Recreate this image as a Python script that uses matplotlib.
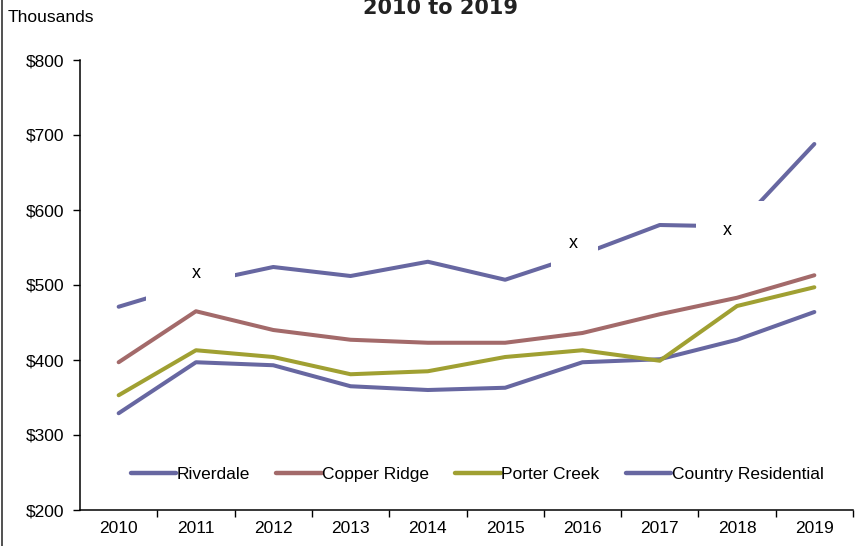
import matplotlib.pyplot as plt
from matplotlib.lines import Line2D
from matplotlib.patches import Rectangle
from matplotlib.ticker import FixedLocator, FuncFormatter
from matplotlib.transforms import IdentityTransform, ScaledTranslation

plt.rcParams['font.family'] = ['Liberation Sans', 'DejaVu Sans']

# data (thousands of dollars)
years = [2010, 2011, 2012, 2013, 2014, 2015, 2016, 2017, 2018, 2019]
riverdale = [329, 397, 393, 365, 360, 363, 397, 401, 427, 464]
copper_ridge = [397, 465, 440, 427, 423, 423, 436, 461, 483, 513]
porter_creek = [353, 413, 404, 381, 385, 404, 413, 399, 472, 497]
country_res = [471, 502, 524, 512, 531, 507, 541, 580, 578, 688]

# suppressed values marked with "x" on the country residential line
x_marks = [2011, 2016, 2018]

series = [
    ('Riverdale', riverdale, '#6767a1'),
    ('Copper Ridge', copper_ridge, '#a36a6a'),
    ('Porter Creek', porter_creek, '#a0a032'),
    ('Country Residential', country_res, '#6767a1'),
]

fig = plt.figure(figsize=(8.63, 5.46), dpi=100)
ax = fig.add_axes([80 / 863, 36 / 546, 773 / 863, 450 / 546])

pos = list(range(len(years)))
for name, vals, col in series:
    ax.plot(pos, vals, color=col, lw=2.9, solid_capstyle='round',
            solid_joinstyle='round', label=name)

# "x" labels sit on white boxes that break the line (pixel offsets from the point)
# (x0, x1, y0, y1) box, (dx, dy) text
label_box = {2011: ((-50, 39, -20, 30), (0, 10)),
             2016: ((-31, 16, -25, 25), (-9, 11)),
             2018: ((-41, 30, -25, 26), (-10, -4))}
for yr in x_marks:
    (x0, x1, y0, y1), (dx, dy) = label_box[yr]
    i = years.index(yr)
    tr = IdentityTransform() + ScaledTranslation(i, country_res[i], ax.transData)
    ax.add_patch(Rectangle((x0, y0), x1 - x0, y1 - y0, transform=tr,
                           fc='white', ec='none', zorder=9, clip_on=False))
    ax.annotate('x', (i, country_res[i]), xytext=(dx, dy), textcoords='offset pixels',
                ha='center', va='center', fontsize=13, zorder=10)

ax.set_xlim(-0.5, len(years) - 0.5)
ax.set_ylim(200, 800)
ax.set_yticks(range(200, 801, 100))
ax.yaxis.set_major_formatter(FuncFormatter(lambda v, p: '$%d' % v))
ax.set_xticks(pos)
ax.set_xticklabels([str(y) for y in years])
ax.xaxis.set_minor_locator(FixedLocator([p + 0.5 for p in pos]))
ax.tick_params(axis='x', which='major', length=0, pad=8, labelsize=12.5)
ax.tick_params(axis='x', which='minor', length=5, direction='out', width=1)
ax.tick_params(axis='y', length=5, direction='out', width=1, pad=6, labelsize=12.5)
for s in ['top', 'right']:
    ax.spines[s].set_visible(False)
for s in ['left', 'bottom']:
    ax.spines[s].set_linewidth(1.1)

handles = [Line2D([], [], color=c, lw=3.2, solid_capstyle='round') for _, _, c in series]
ax.legend(handles, [n for n, _, _ in series], loc='center', bbox_to_anchor=(0.514, 0.08),
          ncol=4, frameon=False, fontsize=12.5, handlelength=2.6, handletextpad=0.05,
          columnspacing=1.5)

fig.text(8 / 863, 1 - 17 / 546, 'Thousands', fontsize=12.5, ha='left', va='center')
fig.text(440 / 863, 1 - 14 / 546, '2010 to 2019', fontsize=15, fontweight='bold',
         ha='center', va='baseline', family=['DejaVu Sans'], color='#222222')
fig.add_artist(Line2D([2 / 863, 2 / 863], [0, 1], color='#333333', lw=1.2))

fig.savefig('out.png', dpi=100)
